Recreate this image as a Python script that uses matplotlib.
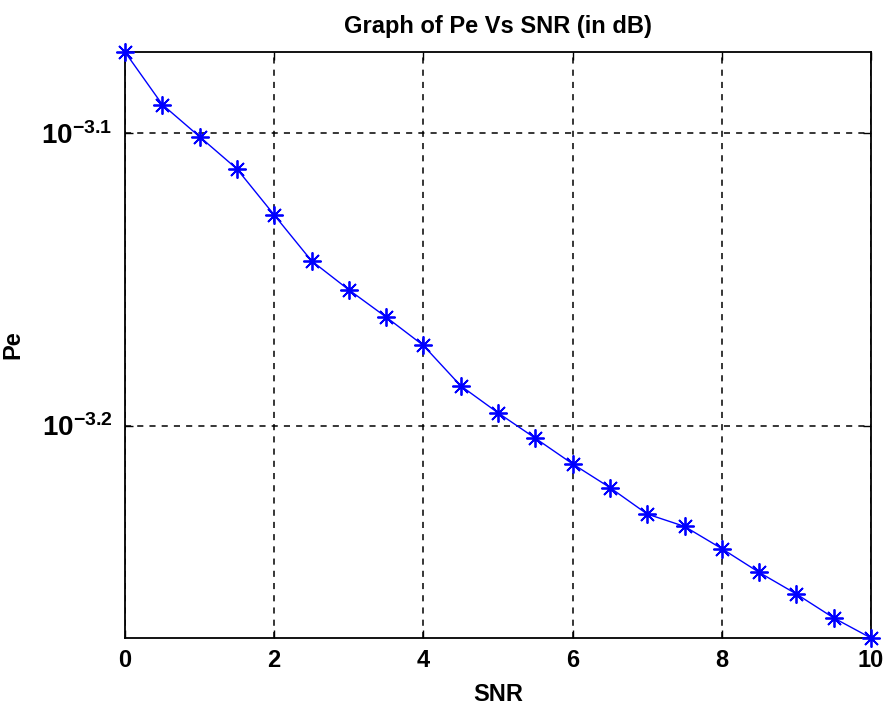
import numpy as np
import matplotlib
matplotlib.use("Agg")
import matplotlib.pyplot as plt
from matplotlib.ticker import FixedLocator, NullLocator

# values
snr = [0, 0.5, 1, 1.5, 2, 2.5, 3, 3.5, 4, 4.5, 5,
       5.5, 6, 6.5, 7, 7.5, 8, 8.5, 9, 9.5, 10]
pe = [8.466e-4, 8.123e-4, 7.920e-4, 7.722e-4, 7.447e-4, 7.183e-4, 7.021e-4,
      6.872e-4, 6.720e-4, 6.510e-4, 6.373e-4, 6.247e-4, 6.122e-4, 6.009e-4,
      5.885e-4, 5.828e-4, 5.727e-4, 5.621e-4, 5.526e-4, 5.423e-4, 5.338e-4]
x_ticks = [0, 2, 4, 6, 8, 10]
y_ticks = [10 ** -3.1, 10 ** -3.2]
y_tick_labels = [r"$10^{-3.1}$", r"$10^{-3.2}$"]

plt.rcParams["font.family"] = ["Liberation Sans", "DejaVu Sans"]
plt.rcParams["font.weight"] = "bold"
plt.rcParams["axes.unicode_minus"] = False
plt.rcParams["mathtext.fontset"] = "custom"
plt.rcParams["mathtext.rm"] = "Liberation Sans:bold"
plt.rcParams["mathtext.bf"] = "Liberation Sans:bold"
plt.rcParams["mathtext.default"] = "bf"

fig = plt.figure(figsize=(8.87, 7.16), dpi=100)
ax = fig.add_axes([125 / 887, 1 - 638 / 716, 746 / 887, 586 / 716])

ax.semilogy(snr, pe, color="blue", linewidth=1.0, marker=(8, 2, 0),
            markersize=13, markeredgewidth=1.3, clip_on=False, zorder=3)

ax.set_xlim(min(snr), max(snr))
ax.set_ylim(min(pe), max(pe))
ax.set_xticks(x_ticks)
ax.set_xticklabels([str(t) for t in x_ticks])
ax.yaxis.set_major_locator(FixedLocator(y_ticks))
ax.yaxis.set_minor_locator(NullLocator())
ax.set_yticklabels(y_tick_labels)

ax.tick_params(direction="in", length=6, width=1, labelsize=17, pad=8,
               top=True, right=True)
ax.tick_params(axis="y", labelsize=20, pad=9)
for s in ax.spines.values():
    s.set_linewidth(1.3)
ax.grid(True, color="black", linestyle=(0, (4, 4)), linewidth=1.1)

ax.set_title("Graph of Pe Vs SNR (in dB)", fontsize=17, fontweight="bold", pad=14)
ax.set_xlabel("SNR", fontsize=17, fontweight="bold", labelpad=8)
ax.set_ylabel("Pe", fontsize=17, fontweight="bold")
ax.yaxis.set_label_coords(-0.135, 0.5)

fig.savefig("out.png", dpi=100)
